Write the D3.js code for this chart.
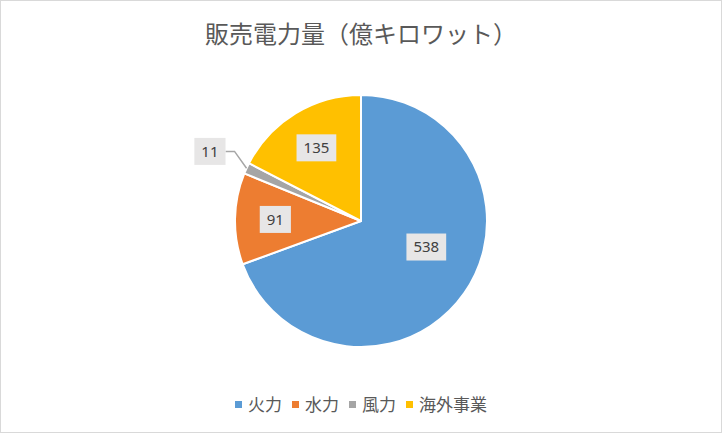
<!DOCTYPE html>
<html>
<head>
<meta charset="utf-8">
<script src="https://cdn.jsdelivr.net/npm/d3@7"></script>
<style>
  body { margin: 0; background: #fff; }
  svg text { font-family: "Noto Sans CJK JP", "Noto Sans", sans-serif; }
</style>
</head>
<body>
<div id="chart"></div>
<script>
// 販売電力量 pie

// data
let categories = ["火力", "水力", "風力", "海外事業"];
let values = [538, 91, 11, 135];
let colors = ["#5b9bd5", "#ed7d31", "#a5a5a5", "#ffc000"];
let title = "販売電力量（億キロワット）";

let w = 722, h = 434;
let cx = 361, cy = 221, radius = 126;

let svg = d3.select("#chart").append("svg")
  .attr("width", w)
  .attr("height", h);

// chart border
svg.append("rect")
  .attr("x", 0.5).attr("y", 0.5)
  .attr("width", w - 1).attr("height", h - 2)
  .attr("fill", "#fff")
  .attr("stroke", "#d9d9d9");

svg.append("text")
  .attr("x", cx)
  .attr("y", 43)
  .attr("text-anchor", "middle")
  .attr("fill", "#595959")
  .style("font-size", "24px")
  .text(title);

let pie = d3.pie().sort(null);
let slices = pie(values);
let total = d3.sum(values);

let arc = d3.arc().innerRadius(0).outerRadius(radius);
let labelArc = d3.arc().innerRadius(radius * 0.68).outerRadius(radius * 0.68);
let edgeArc = d3.arc().innerRadius(radius).outerRadius(radius);
let outArc = d3.arc().innerRadius(radius * 1.32).outerRadius(radius * 1.32);

let g = svg.append("g")
  .attr("transform", "translate(" + cx + "," + cy + ")");

g.selectAll("path.slice")
  .data(slices)
  .enter()
  .append("path")
  .attr("class", "slice")
  .attr("d", arc)
  .attr("fill", (d, i) => colors[i])
  .attr("stroke", "#fff")
  .attr("stroke-width", 2)
  .attr("stroke-linejoin", "round");

// data labels, small slices go outside with a leader line
let labels = g.selectAll("g.lbl")
  .data(slices)
  .enter()
  .append("g")
  .attr("class", "lbl");

labels.each(function(d) {
  let sel = d3.select(this);
  let outside = d.value / total < 0.03;
  let pos = outside ? outArc.centroid(d) : labelArc.centroid(d);
  // the big slice's label sits nearer the centre like excel's best fit
  if (d.value / total > 0.5) pos = [pos[0] * 0.93, pos[1] * 0.53];
  let t = sel.append("text")
    .attr("x", pos[0])
    .attr("y", pos[1])
    .attr("text-anchor", "middle")
    .attr("dy", "0.35em")
    .attr("fill", "#404040")
    .style("font-family", "'Noto Sans', sans-serif")
    .style("font-size", "15px")
    .text(d.value);
  let bw = t.node().getComputedTextLength() + 14;
  let bh = 27;
  sel.insert("rect", "text")
    .attr("x", pos[0] - bw / 2)
    .attr("y", pos[1] - bh / 2)
    .attr("width", bw)
    .attr("height", bh)
    .attr("fill", "#e7e6e6");
  if (outside) {
    let edge = edgeArc.centroid(d);
    let right = pos[0] + bw / 2;
    sel.insert("polyline", "rect")
      .attr("points", [edge, [right + 9, pos[1]], [right, pos[1]]].map(p => p.join(",")).join(" "))
      .attr("fill", "none")
      .attr("stroke", "#a6a6a6")
      .attr("stroke-width", 1.5);
  }
});

// legend
let legend = svg.append("g").attr("transform", "translate(0,405)");
let items = legend.selectAll("g.item")
  .data(categories)
  .enter()
  .append("g")
  .attr("class", "item");

items.append("rect")
  .attr("width", 7).attr("height", 7)
  .attr("y", -4)
  .attr("fill", (d, i) => colors[i]);

items.append("text")
  .attr("x", 13)
  .attr("dy", "0.35em")
  .attr("fill", "#595959")
  .style("font-size", "17px")
  .text(d => d);

// lay out legend items in a centred row
let xs = [], x = 0;
items.each(function() {
  xs.push(x);
  x += this.getBBox().width + 10;
});
let start = cx - (x - 10) / 2;
items.attr("transform", (d, i) => "translate(" + (start + xs[i]) + ",0)");
</script>
</body>
</html>
